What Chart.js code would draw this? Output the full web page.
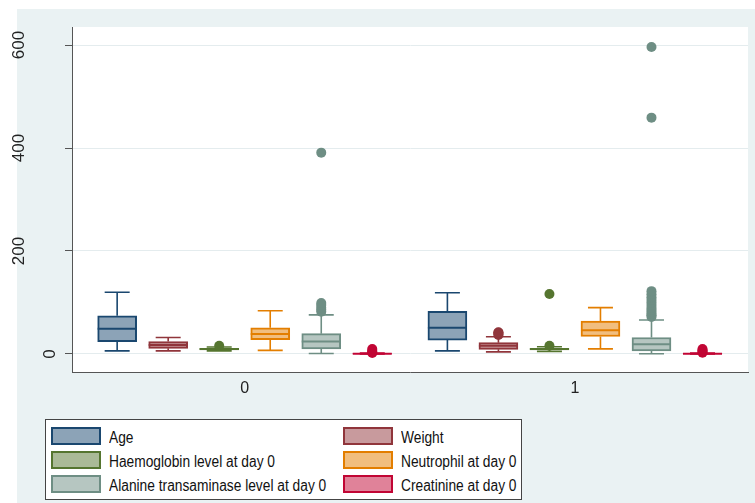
<!DOCTYPE html>
<html><head><meta charset="utf-8">
<script src="https://cdn.jsdelivr.net/npm/chart.js@4"></script>
<style>
html,body{margin:0;padding:0;background:#fff;overflow:hidden}
#wrap{position:relative;width:755px;height:503px}
#legend{position:absolute;left:45px;top:419px;width:477px;height:81px;border:1px solid #444;background:#fff;box-sizing:border-box;font-family:"Liberation Sans",Arial,sans-serif}
.item{position:absolute;height:18px;width:280px}
.sw{position:absolute;left:0;top:0;width:50px;height:18px;box-sizing:border-box;border:2px solid}
.lbl{position:absolute;left:58px;top:1px;font-size:16px;line-height:20px;white-space:nowrap;transform:scaleX(0.86);transform-origin:0 50%;color:#111}
</style></head>
<body><div id="wrap"><canvas id="c"></canvas><div id="legend"></div></div>
<script>
// ---- data ----
const groupLabels = ['0', '1'];
const variableNames = ['Age', 'Weight', 'Haemoglobin level at day 0', 'Neutrophil at day 0',
  'Alanine transaminase level at day 0', 'Creatinine at day 0'];
// each row: one variable, [group 0, group 1]
const lowerWhisker = [[6, 6], [6, 4], [6, 5], [7, 10], [1, 0.5], [0.2, 0.2]];
const quartile1   = [[24, 27], [11, 9], [8, 8], [28, 34], [10, 6], [0.4, 0.4]];
const medians     = [[49, 51], [17.5, 16], [9.5, 9.5], [39, 46], [24, 19], [0.6, 0.6]];
const quartile3   = [[74, 83], [24, 22], [11, 11], [51, 64], [39.5, 32], [0.9, 0.9]];
const upperWhisker = [[120, 119], [32, 33.6], [13.5, 14], [84, 90], [76, 66], [1.6, 1.6]];
const outlierValues = [
  [[], []],
  [[], [37, 39, 41, 42]],
  [[16], [16, 116.5]],
  [[], []],
  [[82, 86, 90, 95, 99, 391], [72, 75, 78, 82, 86, 90, 95, 100, 105, 110, 116, 122, 459, 596]],
  [[2, 4, 6, 9.5], [2.5, 5, 7, 9.5]]
];
const yTickValues = [0, 200, 400, 600];
const yTickLabels = ['0', '200', '400', '600'];

// ---- styles ----
const lineColors = ['#1a476f', '#90353b', '#55752f', '#e37e00', '#6e8e84', '#c10534'];
const fillColors = ['#8ca3b7', '#c89a9d', '#aaba97', '#f1be7f', '#b6c6c1', '#e08299'];
const SLOT = 0.1545;      // distance between boxes inside a group (x units)
const BOX_W = 39;
const CAP_HALF = 12.5;
const FONT = '"Liberation Sans", Arial, sans-serif';

const slotX = (gi, k) => gi + (k - (variableNames.length - 1) / 2) * SLOT;

const datasets = [];
variableNames.forEach((name, k) => {
  datasets.push({
    type: 'bar', label: name, varIndex: k,
    data: groupLabels.map((g, gi) => ({ x: slotX(gi, k), y: [quartile1[k][gi], quartile3[k][gi]] })),
    backgroundColor: fillColors[k], borderColor: lineColors[k], borderWidth: 2,
    borderSkipped: false, barThickness: BOX_W, grouped: false, order: 2
  });
});
variableNames.forEach((name, k) => {
  const pts = [];
  groupLabels.forEach((g, gi) => outlierValues[k][gi].forEach(v => pts.push({ x: slotX(gi, k), y: v })));
  datasets.push({
    type: 'scatter', label: name + ' outliers', data: pts,
    backgroundColor: lineColors[k], borderColor: lineColors[k], borderWidth: 0,
    pointRadius: 5, pointHoverRadius: 5, order: 1
  });
});

const backgroundPlugin = {
  id: 'bg',
  beforeDraw(chart) {
    const { ctx, chartArea: a } = chart;
    ctx.save();
    ctx.fillStyle = '#ffffff';
    ctx.fillRect(0, 0, chart.width, chart.height);
    ctx.fillStyle = '#eaf2f3';
    ctx.fillRect(17, 9, chart.width - 17, chart.height - 9);
    ctx.fillStyle = '#ffffff';
    ctx.fillRect(a.left, a.top, a.right - a.left, a.bottom - a.top);
    ctx.restore();
  }
};

const boxPlugin = {
  id: 'boxparts',
  afterDatasetDraw(chart, args) {
    const meta = args.meta;
    if (meta.type !== 'bar') return;
    const k = chart.data.datasets[args.index].varIndex;
    const ys = chart.scales.y;
    const ctx = chart.ctx;
    ctx.save();
    ctx.strokeStyle = lineColors[k];
    meta.data.forEach((bar, gi) => {
      const x = bar.x, half = bar.width / 2;
      const yq1 = ys.getPixelForValue(quartile1[k][gi]);
      const yq3 = ys.getPixelForValue(quartile3[k][gi]);
      const ylo = ys.getPixelForValue(lowerWhisker[k][gi]);
      const yhi = ys.getPixelForValue(upperWhisker[k][gi]);
      const ymed = ys.getPixelForValue(medians[k][gi]);
      ctx.lineWidth = 1.6;
      ctx.beginPath();
      ctx.moveTo(x, yq3); ctx.lineTo(x, yhi);
      ctx.moveTo(x - CAP_HALF, yhi); ctx.lineTo(x + CAP_HALF, yhi);
      ctx.moveTo(x, yq1); ctx.lineTo(x, ylo);
      ctx.moveTo(x - CAP_HALF, ylo); ctx.lineTo(x + CAP_HALF, ylo);
      ctx.stroke();
      ctx.lineWidth = 2;
      ctx.beginPath();
      ctx.moveTo(x - half, ymed); ctx.lineTo(x + half, ymed);
      ctx.stroke();
    });
    ctx.restore();
  }
};

const yLabelPlugin = {
  id: 'ylabels',
  afterDraw(chart) {
    const ys = chart.scales.y;
    const ctx = chart.ctx;
    ctx.save();
    ctx.font = '17px ' + FONT;
    ctx.fillStyle = '#222';
    ctx.textAlign = 'center';
    ctx.textBaseline = 'middle';
    ys.ticks.forEach((t, i) => {
      const label = yTickLabels[i];
      const y = ys.getPixelForValue(t.value);
      const w = ctx.measureText(label).width;
      const x = ys.right - 7 - 1.64 * w;
      ctx.save();
      ctx.translate(x, y);
      ctx.rotate(-Math.PI / 2);
      ctx.fillText(label, 0, 1);
      ctx.restore();
    });
    ctx.restore();
  }
};

new Chart(document.getElementById('c'), {
  type: 'bar',
  data: { datasets },
  plugins: [backgroundPlugin, boxPlugin, yLabelPlugin],
  options: {
    responsive: true, maintainAspectRatio: false, animation: false, devicePixelRatio: 1,
    layout: { padding: { left: 0, top: 27, right: 7, bottom: 91 } },
    plugins: { legend: { display: false }, tooltip: { enabled: false } },
    scales: {
      x: {
        type: 'linear', min: -0.523, max: 1.524, offset: false,
        grid: { display: false, drawTicks: false },
        border: { display: true, color: '#555', width: 1 },
        afterBuildTicks: s => { s.ticks = groupLabels.map((l, i) => ({ value: i })); },
        ticks: { callback: (v, i) => groupLabels[i], padding: 7, autoSkip: false, maxRotation: 0,
                 font: { family: FONT, size: 16 }, color: '#222' },
        afterFit: s => { s.height = 40; }
      },
      y: {
        type: 'linear', min: -35, max: 635,
        afterBuildTicks: s => { s.ticks = yTickValues.map(v => ({ value: v })); },
        grid: { color: '#e4ecee', lineWidth: 1, drawTicks: true, tickLength: 7, tickColor: '#555', tickWidth: 1 },
        border: { display: true, color: '#555', width: 1 },
        ticks: { display: false },
        afterFit: s => { s.width = 72; }
      }
    }
  }
});

// legend (HTML, built from the same arrays)
const legend = document.getElementById('legend');
variableNames.forEach((name, k) => {
  const row = Math.floor(k / 2), col = k % 2;
  const item = document.createElement('div');
  item.className = 'item';
  item.style.left = (col === 0 ? 5 : 297) + 'px';
  item.style.top = (7 + row * 24.2) + 'px';
  const sw = document.createElement('div');
  sw.className = 'sw';
  sw.style.background = fillColors[k];
  sw.style.borderColor = lineColors[k];
  const lbl = document.createElement('span');
  lbl.className = 'lbl';
  lbl.textContent = name;
  item.appendChild(sw); item.appendChild(lbl);
  legend.appendChild(item);
});
</script>
</body></html>
